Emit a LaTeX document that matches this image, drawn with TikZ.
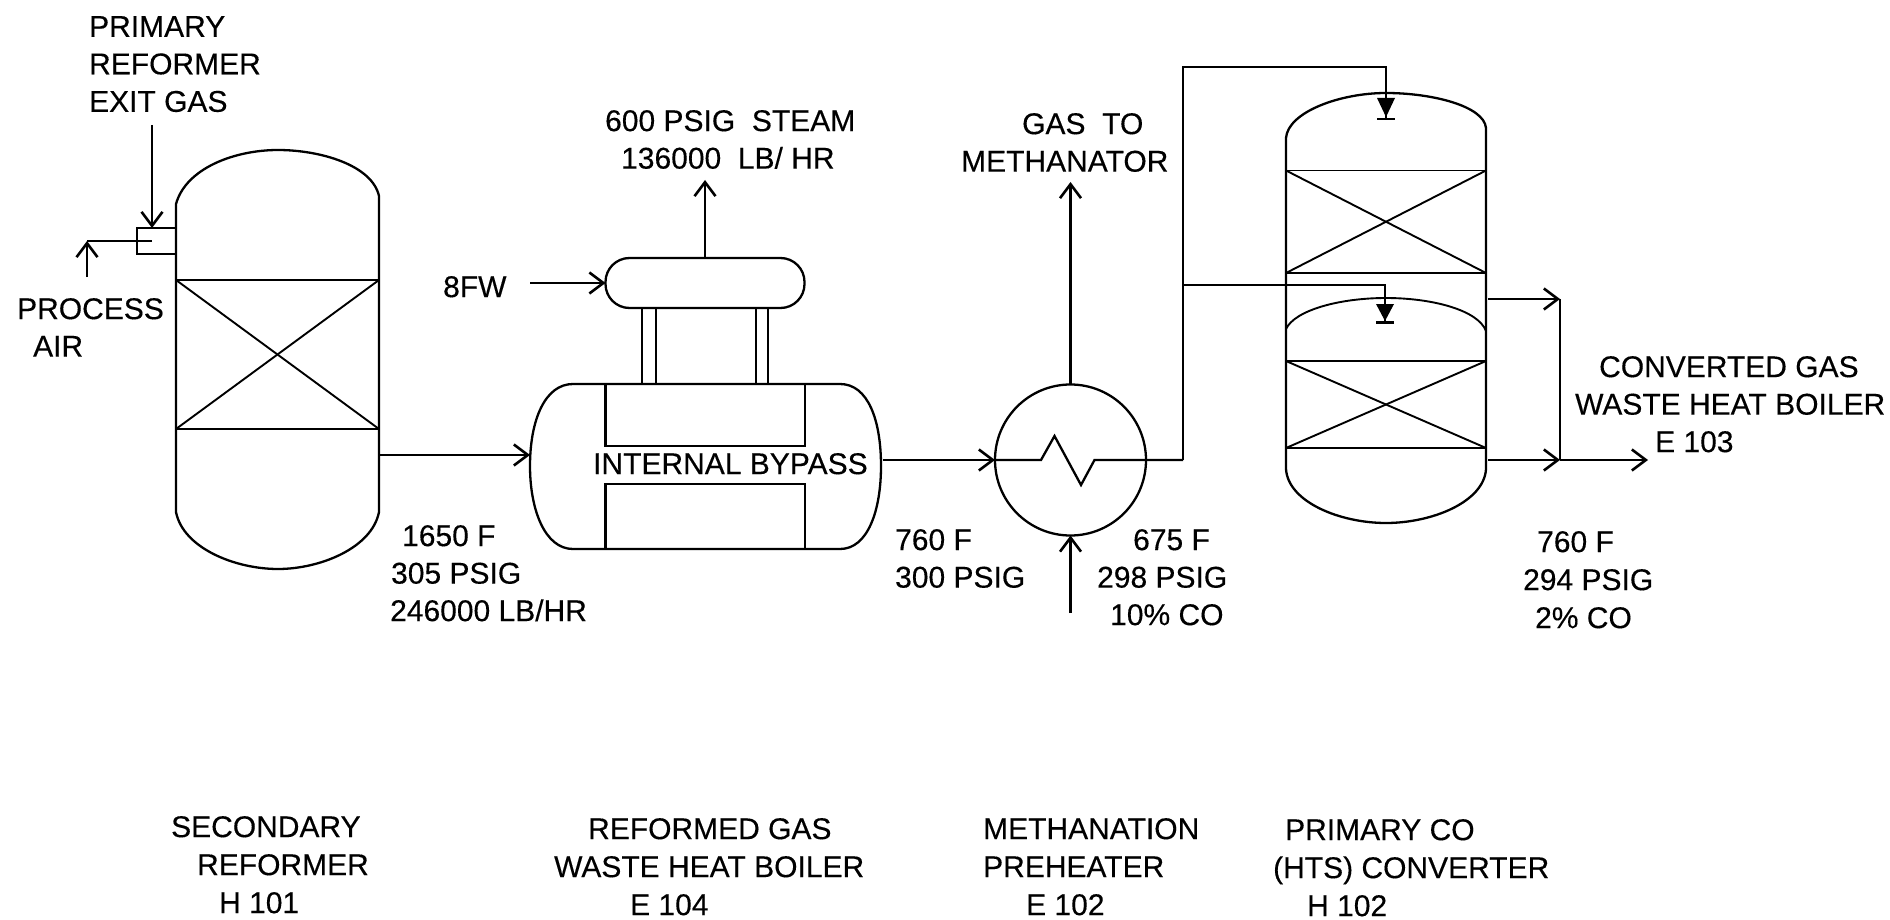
\documentclass[tikz,border=0pt]{standalone}
\usepackage{fontspec}
\setmainfont{Liberation Sans}[FakeBold=0.3]
\usetikzlibrary{arrows.meta}
\tikzset{
    lbl/.style={anchor=north west,align=left,inner sep=0pt,font=\fontsize{30}{37.5}\selectfont},
    unitlbl/.style={lbl,font=\fontsize{30}{38}\selectfont},
    bed/.style={line width=1.9pt},
  }
\begin{document}
\begin{tikzpicture}[x=1pt,y=-1pt,line width=2.3pt,>={Straight Barb[length=14pt,width=21pt,line width=2.6pt]}]
  \useasboundingbox (0,0) rectangle (1890,920);
  %secondary reformer
  \coordinate(RL) at (176,204);
  \coordinate(RR) at (379,196);
  \draw (RL) .. controls (186,168) and (235,150) .. (278,150) .. controls (320,150) and (372,165) .. (RR)
        -- (379,512) .. controls (372,548) and (320,569) .. (278,569) .. controls (235,569) and (183,548) .. (176,512) -- cycle;
  \draw[bed] (176,280) rectangle (379,429);
  \draw[bed] (176,280) -- (379,429);
  \draw[bed] (176,429) -- (379,280);
  \node(Mixer)[draw,bed,minimum width=39pt,minimum height=26pt,inner sep=0pt,outer sep=0pt] at (156.5,241) {};
  \coordinate(MixIn) at (152,241);
  \coordinate(PrimFeed) at (152,125);
  \coordinate(AirCorner) at (87,241);
  \coordinate(AirFeed) at (87,277);
  \draw[->] (PrimFeed) -- (152,228);
  \draw (MixIn) -- (AirCorner);
  \draw[->] (AirFeed) -- (AirCorner);
  %waste heat boiler
  \coordinate(BIn) at (530,455);
  \coordinate(ROut) at (379,455);
  \coordinate(BOut) at (883,460);
  \draw (573,384) .. controls (545,384) and (530,420) .. (530,466) .. controls (530,510) and (545,549) .. (573,549)
        -- (840,549) .. controls (868,549) and (881,510) .. (881,466) .. controls (881,420) and (868,384) .. (840,384) -- cycle;
  \draw (605.5,384) -- (605.5,446) -- (805,446) -- (805,384);
  \draw (605.5,549) -- (605.5,484) -- (805,484) -- (805,549);
  \draw[->] (ROut) -- (BIn);
  \node(Drum)[draw,rounded corners=24pt,minimum width=199pt,minimum height=50pt,inner sep=0pt,outer sep=0pt] at (705,283) {};
  \draw[bed] (642,308) -- (642,384) (656,308) -- (656,384);
  \draw[bed] (756,308) -- (756,384) (768,308) -- (768,384);
  \coordinate(SteamOut) at (705,180);
  \coordinate(BfwIn) at (530,283);
  \draw[->] (Drum.north) -- (SteamOut);
  \draw[->] (BfwIn) -- (Drum.west);
  %preheater
  \node(Hx)[draw,circle,minimum size=151pt,inner sep=0pt,outer sep=0pt] at (1070.5,460) {};
  \coordinate(GasOut) at (1070.5,182);
  \coordinate(ColdIn) at (1070.5,613);
  \coordinate(Split) at (1183,460);
  \draw[->] (BOut) -- (Hx.west);
  \draw[->] (Hx.north) -- (GasOut);
  \draw[->] (ColdIn) -- (Hx.south);
  \draw (Hx.west) -- (1041,460) -- (1054.5,436) -- (1081,485) -- (1094.5,460) -- (Split);
  %hts converter
  \draw (1286,138) .. controls (1288,112) and (1340,93) .. (1386,93) .. controls (1432,93) and (1484,106) .. (1486,128)
        -- (1486,469) .. controls (1484,502) and (1432,523) .. (1386,523) .. controls (1340,523) and (1288,502) .. (1286,469) -- cycle;
  \draw[bed] (1286,170.5) rectangle (1486,273);
  \draw[bed] (1286,170.5) -- (1486,273);
  \draw[bed] (1286,273) -- (1486,170.5);
  \draw[bed] (1286,329) .. controls (1295,310) and (1340,298) .. (1386,298) .. controls (1432,298) and (1478,310) .. (1486,331);
  \draw[bed] (1286,361) rectangle (1486,448);
  \draw[bed] (1286,361) -- (1486,448);
  \draw[bed] (1286,448) -- (1486,361);
  \coordinate(TopFeed) at (1386,119);
  \coordinate(MidFeed) at (1385,322);
  \coordinate(Branch) at (1183,285);
  \draw (Split) -- (1183,67) -- (1386,67) -- (TopFeed);
  \draw (Branch) -- (1385,285) -- (MidFeed);
  \fill (1377,98) -- (1395,98) -- (1386,117) -- cycle;
  \fill (1376,304) -- (1394,304) -- (1385,321) -- cycle;
  \draw (1377,119) -- (1395,119);
  \draw (1376,322.5) -- (1394,322.5);
  \coordinate(UpOut) at (1488,299);
  \coordinate(LowOut) at (1488,460);
  \coordinate(UpJoin) at (1560,299);
  \coordinate(LowJoin) at (1560,460);
  \coordinate(ToBoiler) at (1648,460);
  \draw[->] (UpOut) -- (UpJoin);
  \draw[->] (LowOut) -- (LowJoin);
  \draw (UpJoin) -- (LowJoin);
  \draw[->] (LowJoin) -- (ToBoiler);
  %labels
  \node(Primary)[lbl] at (88,15) {PRIMARY\\REFORMER\\EXIT GAS};
  \node(Air)[lbl] at (16,297) {PROCESS\\\hspace*{16pt}AIR};
  \node(Bfw)[lbl] at (442,275) {8FW};
  \node(Steam)[lbl] at (604,109) {600 PSIG\ \ STEAM\\\hspace*{16pt}136000\ \ LB/ HR};
  \node(ToMeth)[lbl] at (960,112) {\hspace*{61pt}GAS\ \ TO\\METHANATOR};
  \node(Bypass)[lbl] at (592,452) {INTERNAL BYPASS};
  \node(Out1)[lbl] at (389,524) {\hspace*{12pt}1650 F\\\hspace*{1pt}305 PSIG\\246000 LB/HR};
  \node(Out2)[lbl] at (894,528) {760 F\\300 PSIG};
  \node(Out3)[lbl] at (1096,528) {\hspace*{36pt}675 F\\298 PSIG\\\hspace*{13pt}10\% CO};
  \node(Out4)[unitlbl] at (1522,530) {\hspace*{14pt}760 F\\294 PSIG\\\hspace*{12pt}2\% CO};
  \node(Conv)[lbl] at (1574,355) {\hspace*{24pt}CONVERTED GAS\\WASTE HEAT BOILER\\\hspace*{80pt}E 103};
  \node(H101)[unitlbl] at (170,815) {SECONDARY\\\hspace*{26pt}REFORMER\\\hspace*{48pt}H 101};
  \node(E104)[unitlbl] at (553,817) {\hspace*{34pt}REFORMED GAS\\WASTE HEAT BOILER\\\hspace*{76pt}E 104};
  \node(E102)[unitlbl] at (982,817) {METHANATION\\PREHEATER\\\hspace*{43pt}E 102};
  \node(H102)[unitlbl] at (1272,818) {\hspace*{12pt}PRIMARY CO\\(HTS) CONVERTER\\\hspace*{34pt}H 102};
\end{tikzpicture}
\end{document}
